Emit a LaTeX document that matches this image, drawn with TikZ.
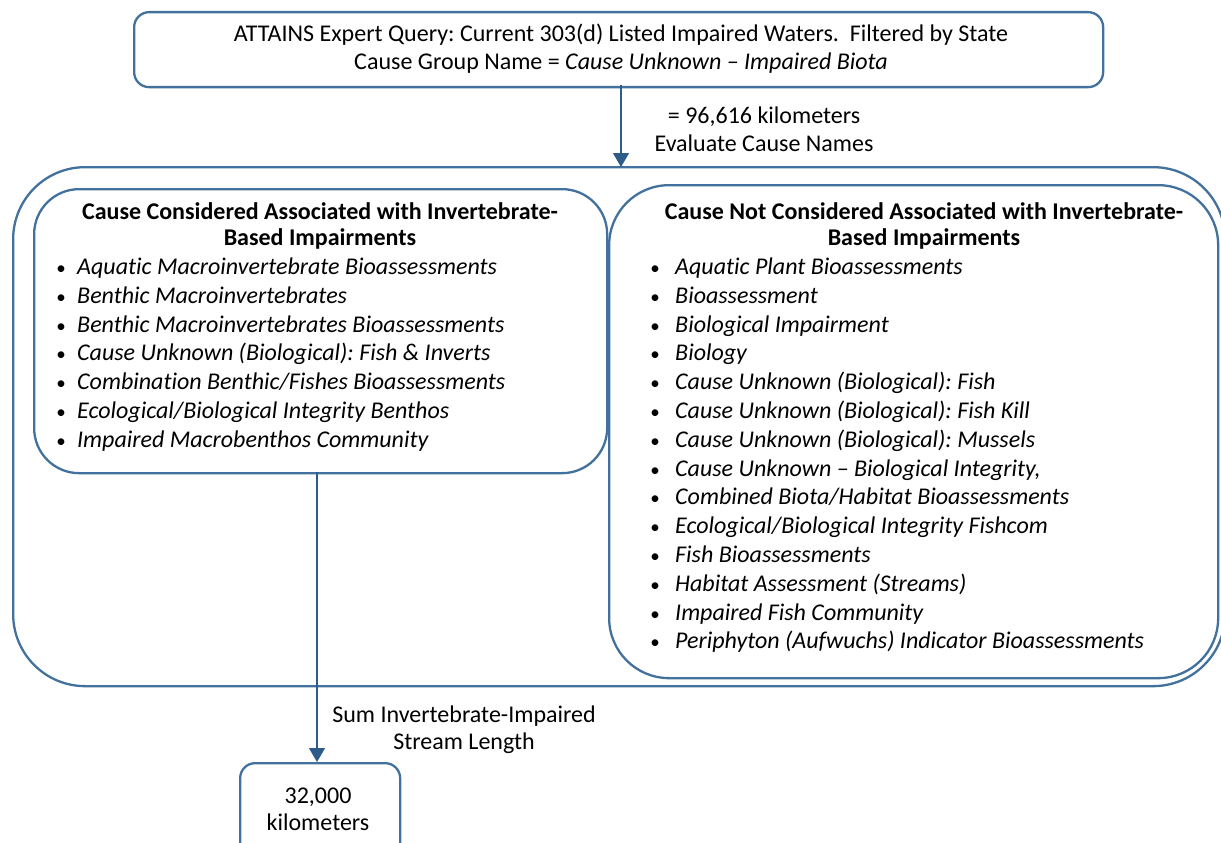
\documentclass[tikz,border=0pt]{standalone}
\usepackage{fontspec}
\setmainfont{Carlito}[Ligatures={NoCommon}]
\frenchspacing
\usetikzlibrary{arrows.meta}
\definecolor{boxblue}{HTML}{41719C}
\definecolor{arrowblue}{HTML}{2E5C8A}
\tikzset{
  boxline/.style={draw=boxblue, line width=2.3pt, anchor=north west, inner sep=0pt},
  txt/.style={font=\fontsize{24}{28}\selectfont, inner sep=0pt, anchor=base},
  itm/.style={font=\fontsize{24}{28}\selectfont\itshape, inner sep=0pt, anchor=base west},
  bul/.style={font=\fontsize{19}{28}\selectfont, inner sep=0pt, anchor=base},
  ttl/.style={font=\fontsize{24}{28}\selectfont\bfseries, inner sep=0pt, anchor=base},
  conn/.style={draw=arrowblue, line width=1.4pt, -{Triangle[length=14pt,width=16pt]}},
}
\begin{document}
\begin{tikzpicture}[x=1pt,y=-1pt]
\useasboundingbox (0,0) rectangle (1221,843);
\clip (0,0) rectangle (1221,843);

% boxes
\node[boxline, rounded corners=15pt, minimum width=969pt, minimum height=75pt] (top) at (133,11) {};
\node[boxline, rounded corners=72pt, minimum width=1212pt, minimum height=519pt] (outer) at (12,166) {};
\node[boxline, rounded corners=45pt, minimum width=573pt, minimum height=284pt] (left) at (33,188) {};
\node[boxline, rounded corners=60pt, minimum width=609pt, minimum height=493pt] (right) at (608,184) {};
\node[boxline, rounded corners=15pt, minimum width=160pt, minimum height=100pt] (bottom) at (239,762) {};

% top text
\node[txt] (t1) at (621,41.5) {ATTAINS Expert Query: Current 303(d) Listed Impaired Waters.\ \ Filtered by State};
\node[txt] (t2) at (621,69.5) {Cause Group Name = \textit{Cause Unknown -- Impaired Biota}};

% top connector
\coordinate (a1) at (621,85.5);
\coordinate (a2) at (621,167);
\draw[conn] (a1) -- (a2);
\node[txt] (l1) at (764,123.5) {= 96,616 kilometers};
\node[txt] (l2) at (764,151.5) {Evaluate Cause Names};

% left titles
\node[ttl] (lt1) at (320,219.5) {Cause Considered Associated with Invertebrate-};
\node[ttl] (lt2) at (320,245.5) {Based Impairments};
\foreach \t [count=\i from 0] in {
  Aquatic Macroinvertebrate Bioassessments,
  Benthic Macroinvertebrates,
  Benthic Macroinvertebrates Bioassessments,
  Cause Unknown (Biological): Fish \& Inverts,
  Combination Benthic/Fishes Bioassessments,
  Ecological/Biological Integrity Benthos,
  Impaired Macrobenthos Community}{
  \node[bul] (lb\i) at (61,274.5+28.8*\i) {\textbullet};
  \node[itm] (li\i) at (77,274.5+28.8*\i) {\t};
}

% right titles
\node[ttl] (rt1) at (924,219.5) {Cause Not Considered Associated with Invertebrate-};
\node[ttl] (rt2) at (924,245.5) {Based Impairments};
\foreach \t [count=\i from 0] in {
  Aquatic Plant Bioassessments,
  Bioassessment,
  Biological Impairment,
  Biology,
  Cause Unknown (Biological): Fish,
  Cause Unknown (Biological): Fish Kill,
  Cause Unknown (Biological): Mussels,
  {Cause Unknown -- Biological Integrity,},
  Combined Biota/Habitat Bioassessments,
  Ecological/Biological Integrity Fishcom,
  Fish Bioassessments,
  Habitat Assessment (Streams),
  Impaired Fish Community,
  Periphyton (Aufwuchs) Indicator Bioassessments}{
  \node[bul] (rb\i) at (655,274.5+28.8*\i) {\textbullet};
  \node[itm] (ri\i) at (675,274.5+28.8*\i) {\t};
}

% bottom connector
\coordinate (b1) at (317,472);
\coordinate (b2) at (317,762);
\draw[conn] (b1) -- (b2);
\node[txt] (s1) at (464,722.5) {Sum Invertebrate-Impaired};
\node[txt] (s2) at (464,749.5) {Stream Length};
\node[txt] (k1) at (318,803.5) {32,000};
\node[txt] (k2) at (318,830.5) {kilometers};
\end{tikzpicture}
\end{document}
